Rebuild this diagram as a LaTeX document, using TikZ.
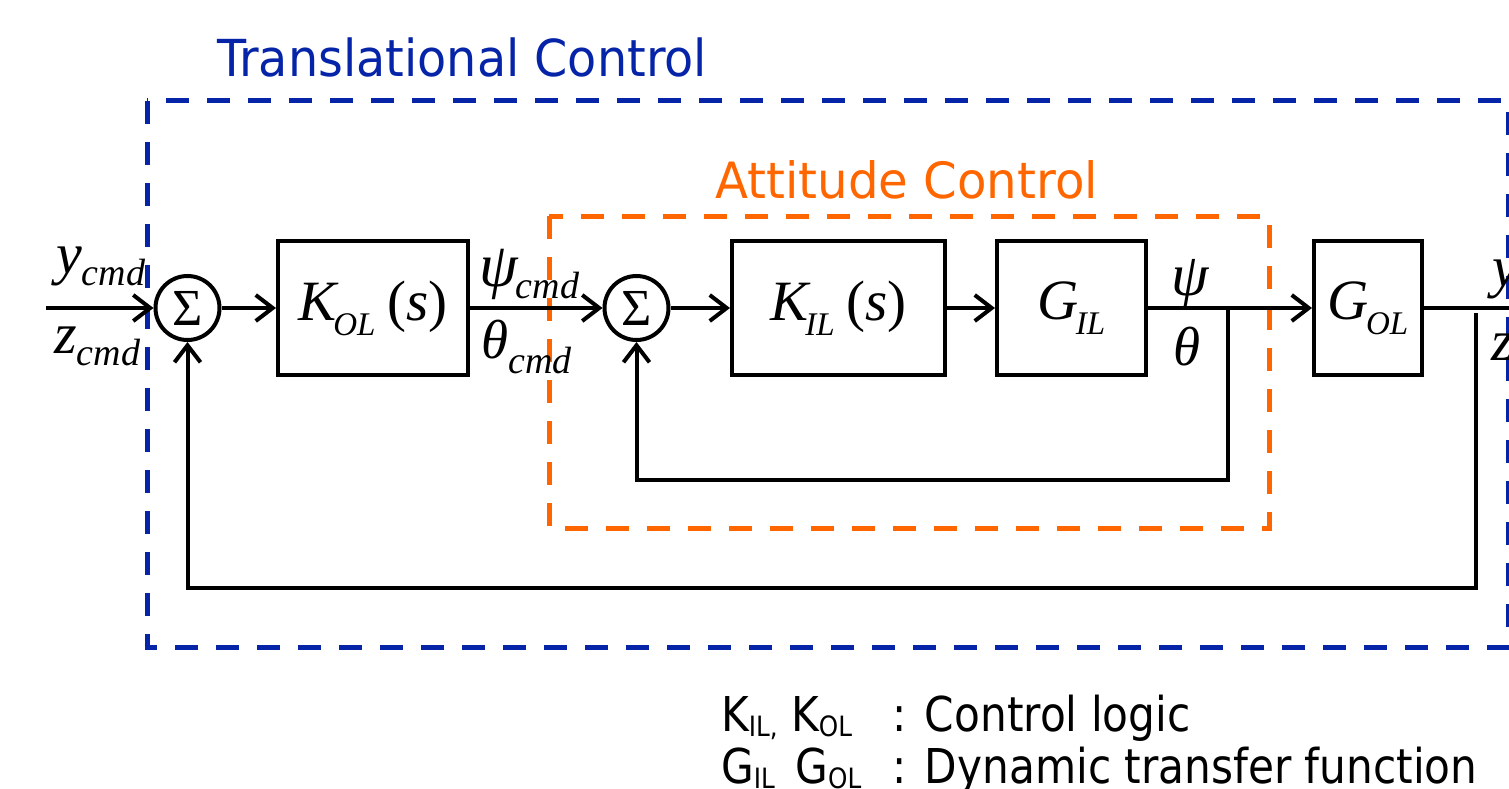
\documentclass[tikz,border=0pt]{standalone}
\usepackage{fontspec}
\setmainfont{Liberation Serif}
\newfontfamily\sansf{DejaVu Sans}
\usetikzlibrary{arrows.meta}
\definecolor{tblue}{RGB}{6,36,168}
\definecolor{torange}{RGB}{255,102,0}
\newcommand\fs[1]{\fontsize{#1}{#1}\selectfont}
\newcommand\msub[1]{\raisebox{-15pt}{\fs{33}\itshape #1}}
\newcommand\lsub[1]{\raisebox{-12pt}{\fs{38}\itshape #1}}
\newcommand\ssub[1]{\raisebox{-5pt}{\fs{28}#1}}
\begin{document}
\begin{tikzpicture}[x=1pt,y=-1pt,
  wire/.style={line width=4pt},
  arr/.style={wire,-{Straight Barb[length=17pt,width=26pt]}},
  blockbox/.style={draw,line width=4pt,minimum height=134pt,inner sep=0pt},
  sumnode/.style={draw,circle,line width=4pt,minimum size=64pt,inner sep=0pt},
  lbl/.style={inner sep=0pt},
  frame/.style={line width=5pt,dash pattern=on 23pt off 18pt}]
\useasboundingbox (0,0) rectangle (1509,789);
\clip (0,0) rectangle (1509,789);
% frames
\draw[frame,tblue] (147,101) rectangle (1508,647);
\draw[frame,torange] (549,216) rectangle (1269,528);
\node[lbl,anchor=base west,text=tblue] (ttl) at (217,77) {\sansf\fs{51}\scalebox{0.935}[1]{Translational Control}};
\node[lbl,anchor=base west,text=torange] (atl) at (715,198) {\sansf\fs{50}\scalebox{0.965}[1]{Attitude Control}};
% nodes
\node[sumnode] (s1) at (187.5,308) {\raisebox{-5pt}{\fs{52}Σ}};
\node[sumnode] (s2) at (636.5,308) {\raisebox{-5pt}{\fs{52}Σ}};
\node[blockbox,minimum width=190pt] (kol) at (373,308) {\fs{57}\itshape K\kern-3pt\msub{OL}\kern12pt\upshape(\itshape s\upshape)};
\node[blockbox,minimum width=213pt] (kil) at (838.5,308) {\fs{57}\itshape K\kern-3pt\msub{IL}\kern12pt\upshape(\itshape s\upshape)};
\node[blockbox,minimum width=149pt] (gil) at (1071.5,308) {\fs{57}\itshape G\kern-3pt\msub{IL}};
\node[blockbox,minimum width=108pt] (gol) at (1368,308) {\fs{57}\itshape G\kern-3pt\msub{OL}};
% points
\coordinate (in) at (46,308);
\coordinate (out) at (1515,308);
\coordinate (b1) at (1228,308);
\coordinate (fb1) at (1228,480);
\coordinate (fb2) at (636.5,480);
\coordinate (b2) at (1476,313);
\coordinate (fb3) at (1476,588);
\coordinate (fb4) at (187.5,588);
% connectors
\draw[arr] (in) -- (s1);
\draw[arr] (s1) -- (kol);
\draw[arr] (kol) -- (s2);
\draw[arr] (s2) -- (kil);
\draw[arr] (kil) -- (gil);
\draw[arr] (gil) -- (gol);
\draw[wire] (gol) -- (out);
\draw[arr] (b1) -- (fb1) -- (fb2) -- (s2);
\draw[arr] (b2) -- (fb3) -- (fb4) -- (s1);
% labels
\node[lbl,anchor=base west] (ycmd) at (56,273) {\fs{58}\itshape y\lsub{cmd}};
\node[lbl,anchor=base west] (zcmd) at (54,353) {\fs{58}\itshape z\lsub{cmd}};
\node[lbl,anchor=base west] (psicmd) at (479,286) {\fs{62}\itshape ψ\kern-2pt\raisebox{-12pt}{\fs{38}\itshape cmd}};
\node[lbl,anchor=base west] (thcmd) at (481,358) {\fs{55}\itshape θ\raisebox{-15pt}{\fs{38}\itshape cmd}};
\node[lbl,anchor=base west] (psi) at (1171,295) {\fs{60}\itshape ψ};
\node[lbl,anchor=base west] (th) at (1173,365) {\fs{55}\itshape θ};
\node[lbl,anchor=base west] (yout) at (1492,286) {\fs{58}\itshape y};
\node[lbl,anchor=base west] (zout) at (1491,360) {\fs{58}\itshape z};
% legend
\node[lbl,anchor=base west] (leg1) at (721,731) {\sansf\fs{48}\scalebox{0.88}[1]{\makebox[195pt][l]{K\ssub{IL,} K\ssub{OL}}: Control logic}};
\node[lbl,anchor=base west] (leg2) at (721,783) {\sansf\fs{48}\scalebox{0.88}[1]{\makebox[195pt][l]{G\ssub{IL} \,G\ssub{OL}}: Dynamic transfer function}};
\end{tikzpicture}
\end{document}
